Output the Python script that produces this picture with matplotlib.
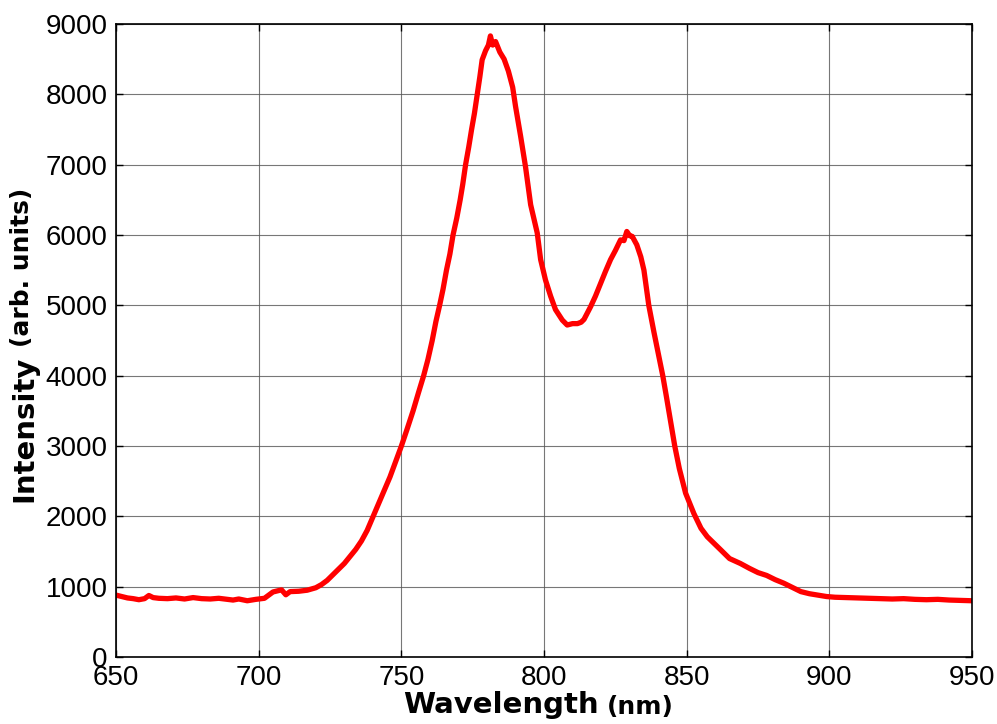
import numpy as np
import matplotlib
matplotlib.use("Agg")
from matplotlib import pyplot as plt

# wavelength (nm) and intensity
wavelength = [650, 652, 654, 656, 658, 660, 661.5, 663, 665, 668, 671, 674, 677, 680, 683, 686,
              689, 691, 693, 696, 699, 702, 705, 708, 709.5, 711, 714, 717, 720, 722, 724, 726,
              728, 730, 732, 734, 736, 738, 740, 742, 744, 746, 748, 750, 752, 754.1, 756, 757.8,
              759.3, 760.8, 762.1, 763.4, 764.6, 765.8, 767, 768.1, 769.4, 770.6, 771.5, 772.5,
              773.6, 774.6, 775.6, 776.6, 777.5, 778.3, 779.5, 780.5, 781.2,
              782, 783, 784.5, 786, 787.5, 789, 790, 791.8, 793.5, 795.3, 797.6, 798.8, 800.5,
              802.3, 804, 806.4, 808.1, 810, 811.7, 813, 814, 816.3, 818, 819.8, 821.5, 823.3,
              825, 826.8, 828, 829, 830, 830.9, 832.5, 833.9, 835, 836.7, 838.5, 840, 841.6,
              842.8, 844.2, 845.8, 847.4, 849.6, 852.5, 855, 857.2, 860, 862, 865, 868.8, 872, 875,
              878, 881, 884, 887, 890, 893, 896, 899, 902, 906, 910, 914, 918, 922, 926, 930,
              934, 938, 942, 946, 950]
intensity = [880, 860, 840, 830, 815, 830, 875, 845, 835, 830, 840, 825, 845, 830, 825, 835,
             820, 810, 825, 800, 820, 835, 925, 955, 885, 930, 935, 950, 985, 1030, 1090, 1170,
             1250, 1330, 1430, 1530, 1650, 1800, 1990, 2180, 2370, 2560, 2780, 3000, 3240, 3500, 3760, 4000,
             4230, 4500, 4770, 5000, 5230, 5500, 5730, 6000, 6240, 6500, 6720, 7000,
             7250, 7500, 7730, 8000, 8250, 8490, 8620, 8700, 8830,
             8700, 8750, 8600, 8500, 8330, 8100, 7830, 7400, 6970, 6430, 6030, 5650, 5360,
             5130, 4940, 4790, 4720, 4740, 4740, 4760, 4800, 4980, 5130, 5310, 5480, 5650,
             5780, 5930, 5920, 6050, 5990, 5980, 5860, 5690, 5500, 5000, 4620, 4320, 4000,
             3720, 3380, 3000, 2680, 2330, 2040, 1830, 1710, 1600, 1520, 1400, 1330, 1260, 1200,
             1160, 1100, 1050, 990, 930, 900, 880, 860, 850, 845, 840, 835, 830, 825, 830, 820,
             815, 820, 810, 805, 800]

xticks = [650, 700, 750, 800, 850, 900, 950]
yticks = [0, 1000, 2000, 3000, 4000, 5000, 6000, 7000, 8000, 9000]

fig = plt.figure(figsize=(9.97, 7.24), dpi=100)
ax = fig.add_axes([0.1164, 0.0925, 0.8586, 0.8744])

ax.plot(wavelength, intensity, color='red', lw=3.8, solid_joinstyle='round')

ax.set_xlim(650, 950)
ax.set_ylim(0, 9000)
ax.set_xticks(xticks)
ax.set_yticks(yticks)
ax.grid(True, color='#555555', lw=0.8, alpha=0.8)
ax.set_axisbelow(True)
ax.tick_params(direction='in', top=True, right=True, length=5, width=1,
               labelsize=20, pad=6)
for lab in ax.get_xticklabels() + ax.get_yticklabels():
    lab.set_family('Liberation Sans')
for s in ax.spines.values():
    s.set_linewidth(1.2)

# axis labels: bold word + smaller unit part, like the original
lab_font = dict(family='DejaVu Sans', fontweight='bold')
tx = fig.text(403 / 997, 5 / 724, 'Wavelength', fontsize=21, ha='left', va='bottom', **lab_font)
ax.annotate('(nm)', xy=(1, 0), xycoords=tx, xytext=(6, 0), textcoords='offset points',
            fontsize=18, ha='left', va='bottom', **lab_font)
ty = fig.text(10 / 997, (724 - 502) / 724, 'Intensity', fontsize=21, rotation=90,
              ha='left', va='bottom', **lab_font)
ax.annotate('(arb. units)', xy=(0, 1), xycoords=ty, xytext=(0, 6), textcoords='offset points',
            fontsize=18, rotation=90, ha='left', va='bottom', **lab_font)

fig.savefig('out.png', dpi=100)
